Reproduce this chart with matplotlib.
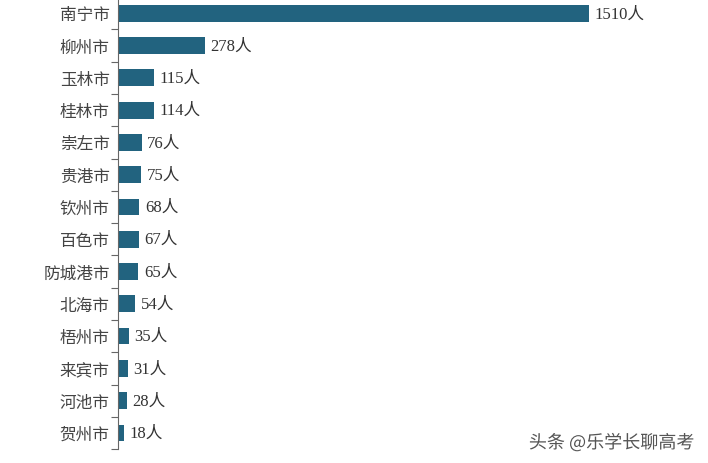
import matplotlib.pyplot as plt
import matplotlib.patheffects as pe
import numpy as np

cities = ["南宁市", "柳州市", "玉林市", "桂林市", "崇左市", "贵港市", "钦州市",
          "百色市", "防城港市", "北海市", "梧州市", "来宾市", "河池市", "贺州市"]
counts = [1510, 278, 115, 114, 76, 75, 68, 67, 65, 54, 35, 31, 28, 18]

fonts = ["Liberation Serif", "Noto Sans CJK SC", "DejaVu Sans"]
plt.rcParams["font.family"] = fonts

fig = plt.figure(figsize=(7.08, 4.64), dpi=100)
ax = fig.add_axes([0.1667, 0.030, 0.8333, 0.974])

y = np.arange(len(cities))
ax.barh(y, counts, height=0.52, color="#22637f")
for yi, v in zip(y, counts):
    ax.text(v + 18, yi, f"{v}人", va="center", ha="left", fontsize=12, color="#333333")

ax.set_ylim(len(cities) - 0.5, -0.5)
ax.set_xlim(0, 1891)
ax.set_yticks(y)
ax.set_yticklabels(cities, fontsize=12, color="#444444")
ax.tick_params(axis="y", which="major", length=0, pad=6)
ax.set_yticks(np.arange(-0.5, len(cities), 1), minor=True)
ax.tick_params(axis="y", which="minor", length=5, color="#666666", width=0.8)
ax.set_xticks([])
for s in ["top", "right", "bottom"]:
    ax.spines[s].set_visible(False)
ax.spines["left"].set_color("#666666")
ax.spines["left"].set_linewidth(0.8)

fig.text(0.747, 0.032, "头条 @乐学长聊高考", fontsize=13, color="#555555",
         family=["Noto Sans CJK SC", "DejaVu Sans"],
         path_effects=[pe.withStroke(linewidth=2, foreground="white")])

fig.savefig("out.png", dpi=100)
